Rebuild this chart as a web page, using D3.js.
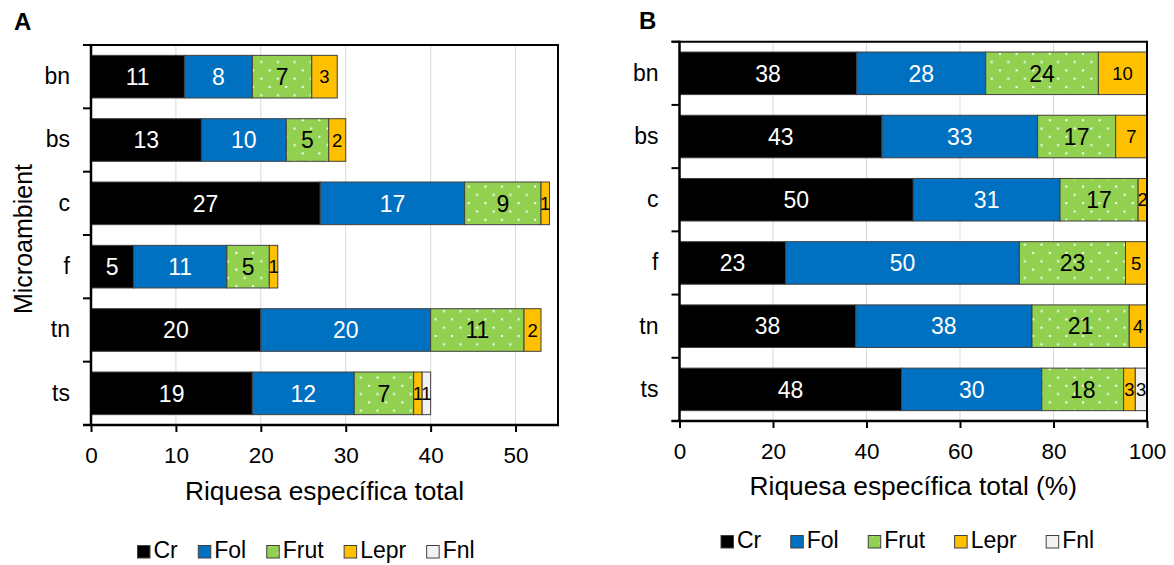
<!DOCTYPE html>
<html>
<head>
<meta charset="utf-8">
<script src="https://cdn.jsdelivr.net/npm/d3@7"></script>
<style>
  body { margin: 0; background: #fff; }
  svg { display: block; font-family: "Liberation Sans", Arial, sans-serif; }
</style>
</head>
<body>
<div id="chart"></div>
<script>
// data
const categories = ["bn", "bs", "c", "f", "tn", "ts"];
const seriesNames = ["Cr", "Fol", "Frut", "Lepr", "Fnl"];

// A: species counts
const crA   = [11, 13, 27, 5, 20, 19];
const folA  = [8, 10, 17, 11, 20, 12];
const frutA = [7, 5, 9, 5, 11, 7];
const leprA = [3, 2, 1, 1, 2, 1];
const fnlA  = [0, 0, 0, 0, 0, 1];

// B: percentages (bar lengths)
const crB   = [37.9, 43.3, 50, 22.7, 37.7, 47.5];
const folB  = [27.6, 33.3, 31.4, 50, 37.7, 30];
const frutB = [24.1, 16.7, 16.7, 22.7, 20.8, 17.5];
const leprB = [10.3, 6.7, 1.9, 4.6, 3.8, 2.5];
const fnlB  = [0, 0, 0, 0, 0, 2.5];

const ticksA = [0, 10, 20, 30, 40, 50];
const ticksB = [0, 20, 40, 60, 80, 100];

const width = 1174, height = 565;

const fills = {Cr: "#000000", Fol: "#0070C0", Frut: "url(#dots)", Lepr: "#FFC000", Fnl: "#F2F2F2"};
const labelColor = {Cr: "#fff", Fol: "#fff", Frut: "#000", Lepr: "#000", Fnl: "#000"};
const labelSize = {Cr: 23, Fol: 23, Frut: 23, Lepr: 18.5, Fnl: 18.5};

function rows(cr, fol, frut, lepr, fnl) {
  return categories.map((c, i) => ({cat: c, Cr: cr[i], Fol: fol[i], Frut: frut[i], Lepr: lepr[i], Fnl: fnl[i]}));
}

const svg = d3.select("#chart").append("svg")
    .attr("width", width)
    .attr("height", height);

svg.append("rect").attr("width", width).attr("height", height).attr("fill", "#fff");

const defs = svg.append("defs");
const pat = defs.append("pattern")
    .attr("id", "dots")
    .attr("patternUnits", "userSpaceOnUse")
    .attr("width", 16.6)
    .attr("height", 16.6);
pat.append("rect").attr("width", 16.6).attr("height", 16.6).attr("fill", "#92D050");
pat.append("rect").attr("x", 3).attr("y", 3).attr("width", 2).attr("height", 2).attr("fill", "#fff");
pat.append("rect").attr("x", 11.3).attr("y", 11.3).attr("width", 2).attr("height", 2).attr("fill", "#fff");

function panel(id, data, {
  x0, x1, y0, y1, max, ticks, title, titleY, letter, letterX, letterY,
  legendX, legendY, legendGap, yTitle = null
}) {
  const g = svg.append("g");

  const x = d3.scaleLinear().domain([0, max]).range([x0, x1]);
  const y = d3.scaleBand()
      .domain(categories)
      .range([y0, y1])
      .paddingInner(0.327)
      .paddingOuter(0.1635);

  // grid
  g.append("g")
    .selectAll("line")
    .data(ticks.filter(t => t > 0 && t < max))
    .join("line")
      .attr("x1", d => x(d)).attr("x2", d => x(d))
      .attr("y1", y0).attr("y2", y1)
      .attr("stroke", "#D9D9D9")
      .attr("stroke-width", 1);

  const stacked = d3.stack().keys(seriesNames)(data);

  const clip = defs.append("clipPath").attr("id", "clip" + id);
  clip.append("rect").attr("x", x0).attr("y", y0).attr("width", x1 - x0).attr("height", y1 - y0);

  const layer = g.append("g")
    .selectAll("g")
    .data(stacked)
    .join("g")
      .attr("fill", d => fills[d.key]);

  layer.selectAll("rect")
    .data(d => d.filter(s => s[1] - s[0] > 0))
    .join("rect")
      .attr("x", d => x(d[0]))
      .attr("y", d => y(d.data.cat))
      .attr("width", d => x(d[1]) - x(d[0]))
      .attr("height", y.bandwidth())
      .attr("stroke", "#404040")
      .attr("stroke-width", 1);

  const labels = g.append("g").attr("clip-path", `url(#clip${id})`);
  stacked.forEach(s => {
    labels.selectAll(null)
      .data(s.filter(d => d[1] - d[0] > 0))
      .join("text")
        .attr("x", d => (x(d[0]) + x(d[1])) / 2)
        .attr("y", d => y(d.data.cat) + y.bandwidth() / 2)
        .attr("dy", "0.36em")
        .attr("text-anchor", "middle")
        .attr("font-size", labelSize[s.key])
        .attr("fill", labelColor[s.key])
        .text(d => Math.round(d[1] - d[0]));
  });

  // category labels
  g.append("g")
      .attr("transform", `translate(${x0},0)`)
      .call(d3.axisLeft(y).tickSize(0).tickPadding(21))
      .call(a => a.select(".domain").remove())
      .selectAll("text")
        .attr("font-size", 23)
        .attr("font-family", null)
        .attr("fill", "#000");

  // bottom tick labels
  g.append("g")
      .attr("transform", `translate(0,${y1})`)
      .call(d3.axisBottom(x).tickValues(ticks).tickSize(7).tickPadding(15).tickSizeOuter(0))
      .call(a => a.select(".domain").remove())
      .call(a => a.selectAll("line").attr("stroke", "#000").attr("stroke-width", 2))
      .selectAll("text")
        .attr("font-size", 22.5)
        .attr("font-family", null)
        .attr("fill", "#000");

  // frame and axes
  const step = y.step();
  g.append("g")
    .selectAll("line")
    .data(d3.range(categories.length + 1))
    .join("line")
      .attr("x1", x0 - 8).attr("x2", x0)
      .attr("y1", i => y0 + i * step).attr("y2", i => y0 + i * step)
      .attr("stroke", "#000").attr("stroke-width", 2);

  g.append("line").attr("x1", x0 - 8).attr("x2", x1).attr("y1", y0).attr("y2", y0)
      .attr("stroke", "#000").attr("stroke-width", 2);
  g.append("line").attr("x1", x1).attr("x2", x1).attr("y1", y0 - 1).attr("y2", y1)
      .attr("stroke", "#000").attr("stroke-width", 2);
  g.append("line").attr("x1", x0).attr("x2", x0).attr("y1", y0 - 1).attr("y2", y1 + 1)
      .attr("stroke", "#000").attr("stroke-width", 2.5);
  g.append("line").attr("x1", x0 - 8).attr("x2", x1 + 1).attr("y1", y1).attr("y2", y1)
      .attr("stroke", "#000").attr("stroke-width", 2.5);

  // titles
  g.append("text")
      .attr("x", (x0 + x1) / 2)
      .attr("y", titleY)
      .attr("text-anchor", "middle")
      .attr("font-size", 26.3)
      .text(title);

  if (yTitle) {
    g.append("text")
        .attr("transform", `translate(32,239) rotate(-90)`)
        .attr("text-anchor", "middle")
        .attr("font-size", 25)
        .text(yTitle);
  }

  g.append("text")
      .attr("x", letterX)
      .attr("y", letterY)
      .attr("font-size", 24)
      .attr("font-weight", "bold")
      .text(letter);

  // legend
  const leg = g.append("g").attr("transform", `translate(${legendX},${legendY})`);
  let cx = 0;
  seriesNames.forEach(k => {
    const item = leg.append("g").attr("transform", `translate(${cx},0)`);
    item.append("rect")
        .attr("x", 0).attr("y", -12.5)
        .attr("width", 12.5).attr("height", 12.5)
        .attr("fill", fills[k])
        .attr("stroke", "#404040")
        .attr("stroke-width", 1);
    const t = item.append("text")
        .attr("x", 16)
        .attr("y", 0)
        .attr("font-size", 23)
        .text(k);
    cx += 16 + t.node().getComputedTextLength() + legendGap;
  });
}

panel("A", rows(crA, folA, frutA, leprA, fnlA), {
  x0: 91, x1: 558, y0: 45, y1: 425, max: 55, ticks: ticksA,
  title: "Riquesa específica total", titleY: 500,
  letter: "A", letterX: 14, letterY: 30,
  legendX: 137.5, legendY: 558, legendGap: 20.5,
  yTitle: "Microambient"
});

panel("B", rows(crB, folB, frutB, leprB, fnlB), {
  x0: 679.5, x1: 1147, y0: 41.7, y1: 421, max: 100, ticks: ticksB,
  title: "Riquesa específica total (%)", titleY: 495,
  letter: "B", letterX: 639, letterY: 29,
  legendX: 721, legendY: 548, legendGap: 29.5
});
</script>
</body>
</html>
